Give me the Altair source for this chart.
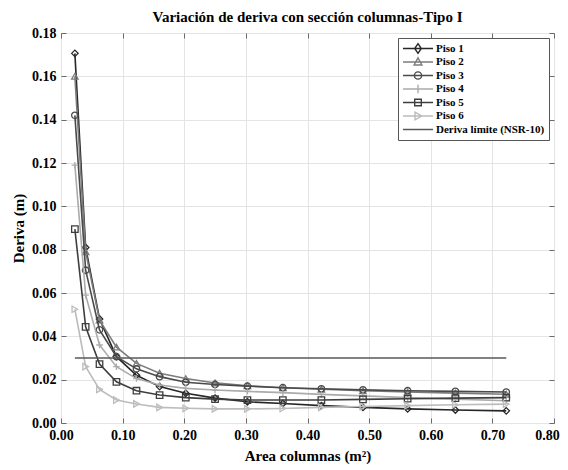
import altair as alt
import pandas as pd

# ---- data ----
area = [0.0225, 0.04, 0.0625, 0.09, 0.1225, 0.16, 0.2025, 0.25, 0.3025,
        0.36, 0.4225, 0.49, 0.5625, 0.64, 0.7225]
piso1 = [0.1706, 0.0810, 0.0480, 0.0306, 0.0220, 0.0168, 0.0137, 0.0115, 0.0098,
         0.0090, 0.0080, 0.0072, 0.0065, 0.0060, 0.0056]
piso2 = [0.1600, 0.0790, 0.0475, 0.0350, 0.0275, 0.0230, 0.0205, 0.0185, 0.0172,
         0.0163, 0.0156, 0.0149, 0.0143, 0.0138, 0.0133]
piso3 = [0.1420, 0.0705, 0.0430, 0.0306, 0.0250, 0.0214, 0.0188, 0.0178, 0.0170,
         0.0163, 0.0158, 0.0153, 0.0149, 0.0146, 0.0143]
piso4 = [0.1190, 0.0590, 0.0360, 0.0260, 0.0205, 0.0175, 0.0160, 0.0152, 0.0146,
         0.0140, 0.0132, 0.0125, 0.0117, 0.0110, 0.0103]
piso5 = [0.0895, 0.0444, 0.0272, 0.0190, 0.0149, 0.0129, 0.0117, 0.0110, 0.0106,
         0.0106, 0.0106, 0.0109, 0.0112, 0.0115, 0.0117]
piso6 = [0.0525, 0.0260, 0.0155, 0.0106, 0.0088, 0.0072, 0.0068, 0.0065, 0.0065,
         0.0067, 0.0072, 0.0076, 0.0080, 0.0084, 0.0087]
deriva_limite = 0.03

series_names = ["Piso 1", "Piso 2", "Piso 3", "Piso 4", "Piso 5", "Piso 6"]
limit_name = "Deriva límite (NSR-10)"
x_ticks = [0.0, 0.1, 0.2, 0.3, 0.4, 0.5, 0.6, 0.7, 0.8]
y_ticks = [0.0, 0.02, 0.04, 0.06, 0.08, 0.10, 0.12, 0.14, 0.16, 0.18]

# ---- styles ----
FONT = "Liberation Serif, Times New Roman, Times, DejaVu Serif, serif"
colors = ["#262626", "#7c7c7c", "#4a4a4a", "#ababab", "#3e3e3e", "#bcbcbc"]
limit_color = "#595959"
marker_shapes = ["diamond", "triangle-up", "circle", "M-1,0H1M0,-1V1",
                 "square", "triangle-right"]
legend_shapes = [
    "M-1,0H1M0,-0.32L0.22,0L0,0.32L-0.22,0Z",
    "M-1,0H1M0,-0.28L0.26,0.2L-0.26,0.2Z",
    "M-1,0H1M0.24,0A0.24,0.24 0 1,1 -0.24,0A0.24,0.24 0 1,1 0.24,0Z",
    "M-1,0H1M0,-0.28V0.28",
    "M-1,0H1M-0.22,-0.22H0.22V0.22H-0.22Z",
    "M-1,0H1M-0.2,-0.26L0.26,0L-0.2,0.26Z",
    "M-1,0H1",
]

rows = []
for name, vals in zip(series_names, [piso1, piso2, piso3, piso4, piso5, piso6]):
    for a, v in zip(area, vals):
        rows.append({"serie": name, "area": a, "deriva": v})
for a in [area[0], area[-1]]:
    rows.append({"serie": limit_name, "area": a, "deriva": deriva_limite})
df = pd.DataFrame(rows)

x_scale = alt.Scale(domain=[0, 0.8], nice=False, zero=False)
y_scale = alt.Scale(domain=[0, 0.18], nice=False)


def xe(axis):
    return alt.X("area:Q", scale=x_scale, axis=axis)


def ye(axis):
    return alt.Y("deriva:Q", scale=y_scale, axis=axis)


main_x_axis = alt.Axis(title="Area columnas (m²)", values=x_ticks, format=".2f",
                       titlePadding=6, labelFlush=False,
                       labelOffset={"condition": {"test": "datum.value >= 0.79",
                                                  "value": -7},
                                    "value": 0})
main_y_axis = alt.Axis(title="Deriva (m)", values=y_ticks, format=".2f",
                       titlePadding=5, labelFlush=False)


def tick_axis(orient, vals):
    return alt.Axis(orient=orient, values=vals, labels=False, grid=False, ticks=True,
                    tickSize=5, tickColor="#6a6a6a", tickWidth=1, offset=-5,
                    domain=False, title=None)


base = alt.Chart(df)
layers = []
first = True
for name, col, shp in zip(series_names, colors, marker_shapes):
    sub = base.transform_filter(alt.datum.serie == name)
    if first:
        xa, ya = main_x_axis, main_y_axis
        first = False
    else:
        xa, ya = None, None
    layers.append(sub.mark_line(color=col, strokeWidth=1.6).encode(x=xe(xa), y=ye(ya)))
    layers.append(sub.mark_point(shape=shp, color=col, filled=False, size=42,
                                 strokeWidth=1.3, opacity=1)
                  .encode(x=xe(None), y=ye(None)))

layers.append(base.transform_filter(alt.datum.serie == limit_name)
              .mark_line(color=limit_color, strokeWidth=1.7)
              .encode(x=xe(None), y=ye(None)))

# inward ticks on all four sides of the frame
ghost = base.mark_point(opacity=0)
layers.append(ghost.encode(x=xe(tick_axis("bottom", x_ticks)), y=ye(None)))
layers.append(ghost.encode(x=xe(tick_axis("top", x_ticks)), y=ye(None)))
layers.append(ghost.encode(x=xe(None), y=ye(tick_axis("left", y_ticks))))
layers.append(ghost.encode(x=xe(None), y=ye(tick_axis("right", y_ticks))))

all_names = series_names + [limit_name]
all_colors = colors + [limit_color]
legend_layer = base.mark_point(opacity=0, filled=False).encode(
    x=xe(None), y=ye(None),
    color=alt.Color("serie:N", scale=alt.Scale(domain=all_names, range=all_colors),
                    legend=alt.Legend(title=None)),
    shape=alt.Shape("serie:N", scale=alt.Scale(domain=all_names, range=legend_shapes),
                    legend=alt.Legend(title=None)),
)
layers.append(legend_layer)

chart = alt.layer(*layers).resolve_axis(
    x="independent", y="independent"
).properties(
    width=493, height=390,
    autosize=alt.AutoSizeParams(type="none"),
    padding={"left": 53, "top": 25, "right": 6, "bottom": 45},
    title=alt.Title("Variación de deriva con sección columnas-Tipo I", dy=3),
).configure_axis(
    labelFont=FONT, labelFontWeight="bold", labelFontSize=14,
    labelColor="black", titleFont=FONT, titleFontWeight="bold",
    titleFontSize=15, titleColor="black", gridColor="#e4e4e4", gridWidth=1,
    domain=False, ticks=False, labelPadding=5,
).configure_view(
    stroke="#7a7a7a", strokeWidth=1,
).configure_legend(
    orient="top-right", offset=5, padding=4, strokeColor="#555555",
    fillColor="white", cornerRadius=0,
    labelFont=FONT, labelFontWeight="bold", labelFontSize=11,
    labelColor="black", symbolSize=900, symbolStrokeWidth=1.4, clipHeight=13,
    rowPadding=0.5, labelOffset=2, symbolOpacity=1,
).configure_title(
    font=FONT, fontSize=15, fontWeight="bold", color="black",
    anchor="middle", frame="group", offset=0,
)

chart.save("out.html", embed_options={"renderer": "svg", "actions": False})
